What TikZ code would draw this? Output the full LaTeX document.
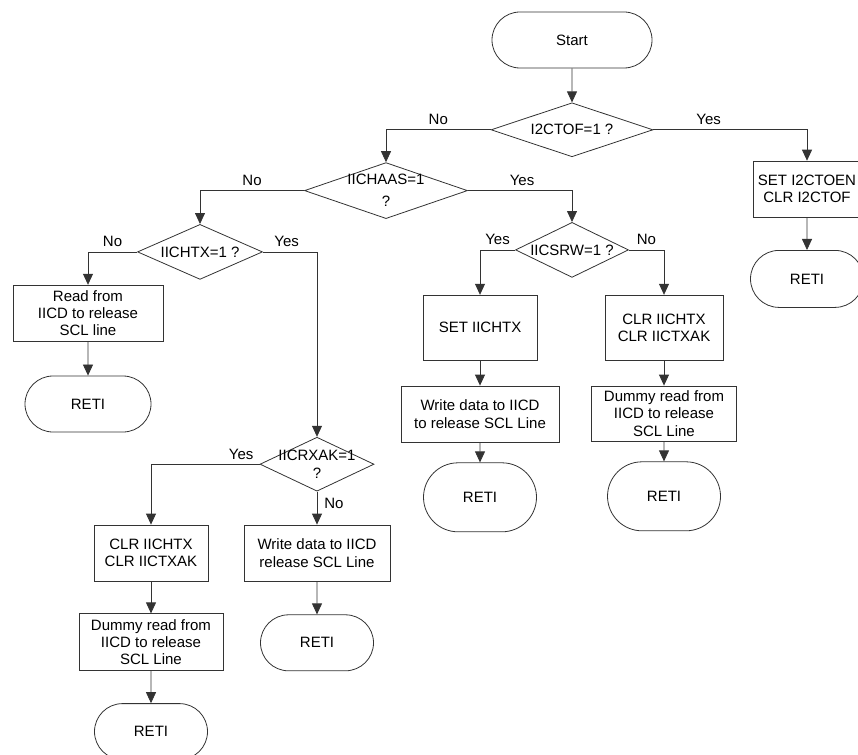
\documentclass[tikz,border=0pt]{standalone}
\usepackage{fontspec}
\setmainfont{Liberation Sans}
\usetikzlibrary{arrows.meta,positioning,shapes.geometric,shapes.misc}
\newcommand{\flowfont}{\fontsize{15}{17.3}\selectfont}
\tikzset{
  term/.style={draw=black!80, line width=0.8pt, rounded rectangle, align=center,
    minimum width=113pt, minimum height=56pt, inner sep=0pt, font=\flowfont},
  procbox/.style={draw=black!80, line width=0.8pt, rectangle, align=center,
    minimum height=56pt, inner sep=0pt, font=\flowfont},
  decide/.style={draw=black!80, line width=0.8pt, diamond, inner sep=0pt,
    minimum height=54pt},
  arr/.style={-{Triangle[length=11pt,width=10pt]}, draw=black!80, line width=0.8pt},
  lbl/.style={font=\flowfont, inner sep=0pt, anchor=base, yshift=5pt},
  every label/.style={font=\flowfont, align=center, inner sep=0pt}
}
\begin{document}
\begin{tikzpicture}[x=1pt, y=-1pt, node distance=20pt and 20pt]
  \useasboundingbox (0,0) rectangle (858,754);

  \node[term, minimum width=160pt] (start) at (572,40) {Start};
  \node[decide, minimum width=162pt, below=34pt of start, label=center:{I2CTOF=1 ?}] (tof) {};

  % timeout branch
  \node[procbox, minimum width=108pt, below=3.5pt of tof, xshift=235pt] (toen) {SET I2CTOEN\\CLR I2CTOF};
  \node[term, minimum height=57pt, below=32.5pt of toen] (retitoen) {RETI};

  % address match
  \node[decide, minimum width=163pt, minimum height=56pt, below=5pt of tof, xshift=-186pt,
    label=center:{IICHAAS=1\\[5pt]?}] (haas) {};
  \node[decide, minimum width=113pt, minimum height=55pt, below=3pt of haas, xshift=186pt,
    label=center:{IICSRW=1 ?}] (srw) {};

  \node[procbox, minimum width=114pt, minimum height=65pt, below=17pt of srw, xshift=-92pt] (settx) {SET IICHTX};
  \node[procbox, minimum width=158pt, below=25pt of settx] (wrsrw) {Write data to IICD\\to release SCL Line};
  \node[term, minimum height=69pt, below=20pt of wrsrw] (retiwr) {RETI};

  \node[procbox, minimum width=118pt, minimum height=65pt, below=17pt of srw, xshift=92pt] (clrsrw) {CLR IICHTX\\CLR IICTXAK};
  \node[procbox, minimum width=145pt, minimum height=55pt, below=25pt of clrsrw] (dumsrw) {Dummy read from\\IICD to release\\SCL Line};
  \node[term, minimum height=69pt, below=20pt of dumsrw] (retidum) {RETI};

  % data transfer
  \node[decide, minimum width=125pt, minimum height=55pt, below=5pt of haas, xshift=-186pt,
    label=center:{IICHTX=1 ?}] (htx) {};
  \node[procbox, minimum width=150pt, below=5pt of htx, xshift=-112pt] (rdd) {Read from\\IICD to release\\SCL line};
  \node[term, minimum width=126pt, below=34pt of rdd] (retird) {RETI};

  \node[decide, minimum width=114pt, below=157pt of htx, xshift=117pt,
    label=center:{IICRXAK=1\\?}] (rxak) {};
  \node[procbox, minimum width=114pt, below=33pt of rxak, xshift=-166pt] (clrrx) {CLR IICHTX\\CLR IICTXAK};
  \node[procbox, minimum width=144pt, minimum height=57pt, below=32pt of clrrx] (dumrx) {Dummy read from\\IICD to release\\SCL Line};
  \node[term, below=32pt of dumrx] (retidumrx) {RETI};
  \node[procbox, minimum width=146pt, below=33pt of rxak] (wrrx) {Write data to IICD\\release SCL Line};
  \node[term, below=33pt of wrrx] (retiwrrx) {RETI};

  \draw[arr] (start) -- (tof);
  \draw[arr] (tof.west) -| node[lbl, pos=0.25] (tofno) {No} (haas.north);
  \draw[arr] (tof.east) -| node[lbl, pos=0.18] (tofyes) {Yes} (toen.north);
  \draw[arr] (toen) -- (retitoen);

  \draw[arr] (haas.west) -| node[lbl, pos=0.25] (haasno) {No} (htx.north);
  \draw[arr] (haas.east) -| node[lbl, pos=0.26] (haasyes) {Yes} (srw.north);

  \draw[arr] (srw.west) -| node[lbl, pos=0.25] (srwyes) {Yes} (settx.north);
  \draw[arr] (srw.east) -| node[lbl, pos=0.25] (srwno) {No} (clrsrw.north);
  \draw[arr] (settx) -- (wrsrw);
  \draw[arr] (wrsrw) -- (retiwr);
  \draw[arr] (clrsrw) -- (dumsrw);
  \draw[arr] (dumsrw) -- (retidum);

  \draw[arr] (htx.west) -| node[lbl, pos=0.25] (htxno) {No} (rdd.north);
  \draw[arr] (rdd) -- (retird);
  \draw[arr] (htx.east) -| node[lbl, pos=0.22] (htxyes) {Yes} (rxak.north);

  \draw[arr] (rxak.west) -| node[lbl, pos=0.085] (rxakyes) {Yes} (clrrx.north);
  \draw[arr] (rxak.south) -- node[font=\flowfont, inner sep=0pt, pos=0.35, right=7pt] (rxakno) {No} (wrrx.north);
  \draw[arr] (clrrx) -- (dumrx);
  \draw[arr] (dumrx) -- (retidumrx);
  \draw[arr] (wrrx) -- (retiwrrx);
\end{tikzpicture}
\end{document}
